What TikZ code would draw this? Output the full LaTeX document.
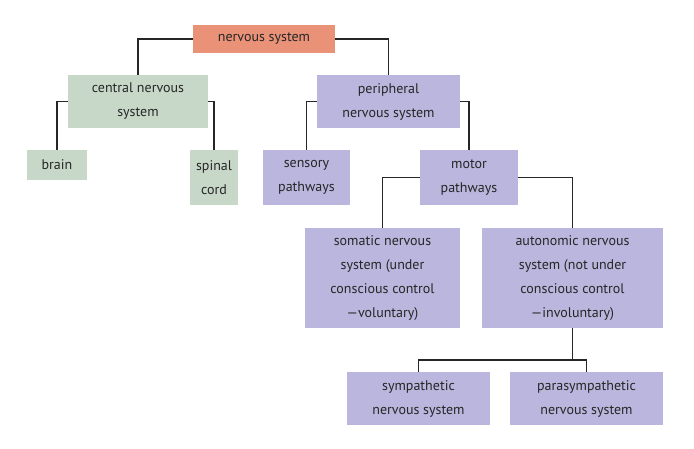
\documentclass[tikz,border=0pt]{standalone}
\usepackage{fontspec}
\setmainfont{PT Sans}
\begin{document}
\begin{tikzpicture}[x=1pt,y=-1pt,
  box/.style={draw=none,align=center,inner sep=0pt,font=\fontsize{14}{24}\selectfont,text=black!85},
  sal/.style={box,fill={rgb,255:red,234;green,146;blue,120}},
  grn/.style={box,fill={rgb,255:red,200;green,216;blue,200}},
  lav/.style={box,fill={rgb,255:red,186;green,182;blue,222}},
  ln/.style={draw=black!85,line width=1.2pt}]
\useasboundingbox (0,0) rectangle (694,448);
\node[sal,minimum width=142,minimum height=28] (ns) at (264,39) {nervous system};
\node[grn,minimum width=140,minimum height=53] (cns) at (138,101.5) {central nervous\\system};
\node[lav,minimum width=143,minimum height=53] (pns) at (388.5,101.5) {peripheral\\nervous system};
\node[grn,minimum width=60,minimum height=30] (br) at (57,165) {brain};
\node[grn,minimum width=48,minimum height=55] (sc) at (214,177.5) {spinal\\cord};
\node[lav,minimum width=87,minimum height=55] (sp) at (306.5,177.5) {sensory\\pathways};
\node[lav,minimum width=98,minimum height=55] (mp) at (469,177.5) {motor\\pathways};
\node[lav,minimum width=155,minimum height=100] (so) at (382.5,278) {somatic nervous\\system (under\\conscious control\\---voluntary)};
\node[lav,minimum width=181,minimum height=100] (au) at (572.5,278) {autonomic nervous\\system (not under\\conscious control\\---involuntary)};
\node[lav,minimum width=143,minimum height=53] (sy) at (418.5,398.5) {sympathetic\\nervous system};
\node[lav,minimum width=153,minimum height=53] (pa) at (586.5,398.5) {parasympathetic\\nervous system};
\begin{scope}[on background layer/.style={}]
\draw[ln] (ns.west) -| (cns.north);
\draw[ln] (ns.east) -| (pns.north);
\draw[ln] (cns.west) -| (br.north);
\draw[ln] (cns.east) -| (sc.north);
\draw[ln] (pns.west) -| (sp.north);
\draw[ln] (pns.east) -| (mp.north);
\draw[ln] (mp.west) -| (so.north);
\draw[ln] (mp.east) -| (au.north);
\coordinate (j) at (au.south |- 0,360);
\draw[ln] (au.south) -- (j);
\draw[ln] (sy.north) |- (j) -| (pa.north);
\end{scope}
\end{tikzpicture}
\end{document}
